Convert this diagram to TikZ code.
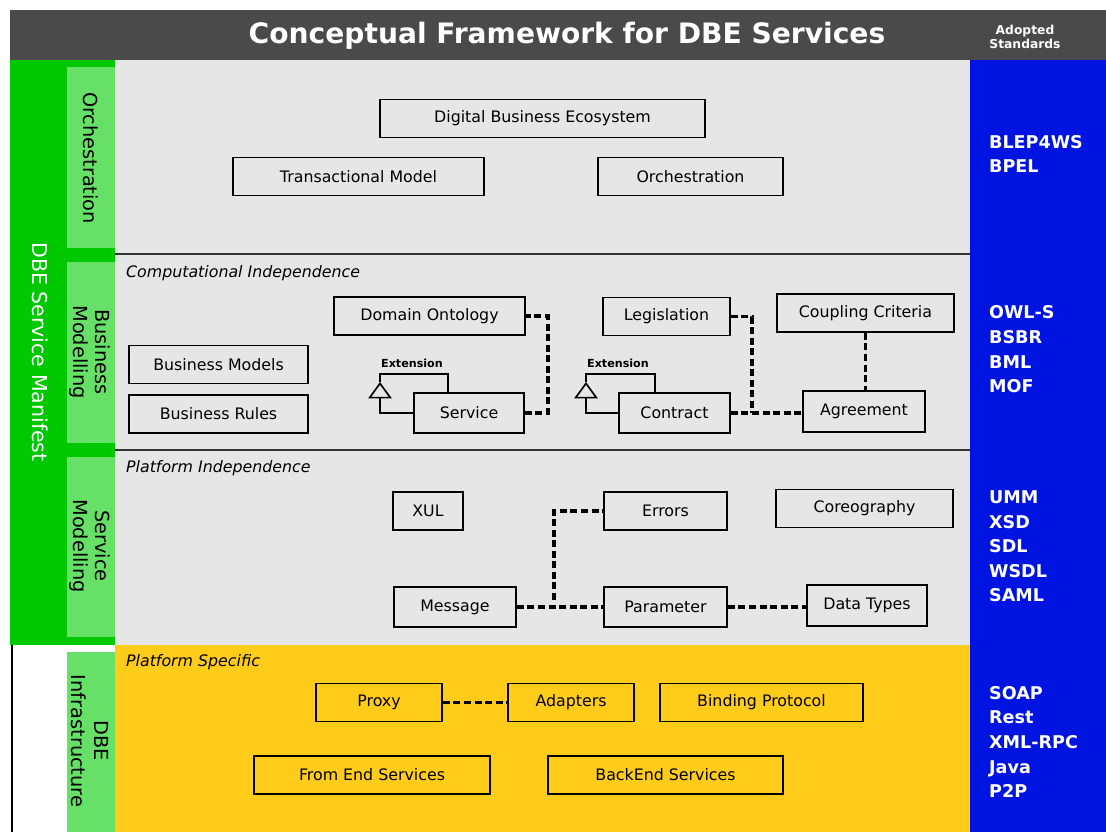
\documentclass[tikz,border=0pt]{standalone}
\usepackage{fontspec}
\setmainfont{DejaVu Sans}
\usetikzlibrary{arrows.meta}
\definecolor{barGray}{RGB}{74,74,74}
\definecolor{manifestGreen}{RGB}{0,200,0}
\definecolor{tabGreen}{RGB}{102,224,102}
\definecolor{panelGray}{RGB}{230,230,230}
\definecolor{infraYellow}{RGB}{255,204,26}
\definecolor{stdBlue}{RGB}{0,20,225}

\begin{document}
\begin{tikzpicture}[x=0.03cm,y=-0.03cm,
    box/.style={draw,line width=1.5pt,minimum height=1.14cm,inner sep=0pt,font=\fontsize{13.5}{15}\selectfont},
    boxw/.style={minimum width=#1*0.03cm},
    dep/.style={line width=2.8pt,dash pattern=on 6pt off 3pt},
    ext/.style={line width=1.4pt},
    gen/.style={ext,-{Triangle[open,length=14pt,width=20pt]}},
    extlabel/.style={font=\fontsize{9.5}{10}\selectfont\bfseries},
    layer label/.style={anchor=west,font=\fontsize{13.5}{15}\selectfont\itshape},
    tab label/.style={rotate=-90,align=center,font=\fontsize{16.5}{19}\selectfont},
    std list/.style={anchor=west,align=left,text=white,font=\fontsize{15}{21}\selectfont\bfseries}]
  \useasboundingbox (0,0) rectangle (1106,832);

  % bands
  \fill[barGray] (10,10) rectangle (1106,60);
  \fill[manifestGreen] (10,60) rectangle (115,645);
  \fill[panelGray] (115,60) rectangle (970,645);
  \fill[infraYellow] (115,645) rectangle (970,832);
  \fill[stdBlue] (970,60) rectangle (1106,832);
  \fill[tabGreen] (67,67) rectangle (115,248);
  \fill[tabGreen] (67,262) rectangle (115,443);
  \fill[tabGreen] (67,457) rectangle (115,637);
  \fill[tabGreen] (67,652) rectangle (115,832);
  \draw[line width=1.4pt] (12,645) -- (12,832);
  \draw[line width=1.5pt,black!80] (115,254) -- (970,254);
  \draw[line width=1.5pt,black!80] (115,450) -- (970,450);

  \node[text=white,font=\fontsize{24}{28}\selectfont\bfseries] (title) at (567,36) {Conceptual Framework for DBE Services};
  \node[text=white,align=center,font=\fontsize{10.5}{11.5}\selectfont\bfseries] (adopted) at (1025,37) {Adopted\\Standards};

  \node[tab label,text=white,font=\fontsize{17.5}{20}\selectfont] (manifest) at (40,352) {DBE Service Manifest};
  \node[tab label] (orchtab) at (91,158) {Orchestration};
  \node[tab label] (bustab) at (90,352) {Business\\Modelling};
  \node[tab label] (svctab) at (90,546) {Service\\Modelling};
  \node[tab label] (infratab) at (90,741) {DBE\\Infrastructure};

  \node[layer label] (compind) at (122,273) {Computational Independence};
  \node[layer label] (platind) at (122,468) {Platform Independence};
  \node[layer label] (platspec) at (122,662) {Platform Specific};

  % orchestration
  \node[box,boxw=325] at (542.5,118.5) (dbe) {Digital Business Ecosystem};
  \node[box,boxw=251] at (358.5,176.5) (trans) {Transactional Model};
  \node[box,boxw=185] at (690.5,176.5) (orch) {Orchestration};

  % business modelling
  \node[box,boxw=191] at (429.5,316) (ontology) {Domain Ontology};
  \node[box,boxw=179] at (218.5,364.5) (bmodels) {Business Models};
  \node[box,boxw=179] at (218.5,414) (brules) {Business Rules};
  \node[box,boxw=110,minimum height=1.2cm] at (469,413) (service) {Service};
  \node[box,boxw=127] at (666.5,316.5) (legis) {Legislation};
  \node[box,boxw=177] at (865.5,313) (coupling) {Coupling Criteria};
  \node[box,boxw=111,minimum height=1.2cm] at (674.5,413) (contract) {Contract};
  \node[box,boxw=122,minimum height=1.22cm] at (864,411.5) (agreement) {Agreement};

  \node[extlabel] (svcext) at (412,363) {Extension};
  \node[extlabel] (conext) at (618,363) {Extension};
  \coordinate (svcbend) at (380,374);
  \coordinate (conbend) at (586,374);
  \draw[ext] ([xshift=-0.63cm]service.north) |- (svcbend) -- ++(0,8);
  \draw[gen] (service.west) -| ([yshift=-0.24cm]svcbend);
  \draw[ext] ([xshift=-0.585cm]contract.north) |- (conbend) -- ++(0,8);
  \draw[gen] (contract.west) -| ([yshift=-0.24cm]conbend);

  \coordinate (legjoin) at (752,413);
  \draw[dep] (service.east) -- ++(23,0) |- (ontology.east);
  \draw[dep] (legis.east) -| (legjoin);
  \draw[dep] (contract.east) -- (contract.east -| agreement.west);
  \draw[dep] (coupling.south) -- (coupling.south |- agreement.north);

  % service modelling
  \node[box,boxw=70] at (428,511) (xul) {XUL};
  \node[box,boxw=123] at (665.5,511) (errors) {Errors};
  \node[box,boxw=177] at (864.5,508.5) (coreo) {Coreography};
  \node[box,boxw=122,minimum height=1.2cm] at (455,607) (message) {Message};
  \node[box,boxw=123,minimum height=1.2cm] at (665.5,607) (param) {Parameter};
  \node[box,boxw=120,minimum height=1.22cm] at (867,605.5) (datatypes) {Data Types};

  \coordinate (msgjoin) at (554,600);
  \draw[dep] (message.east) -- (param.west);
  \draw[dep] (msgjoin) |- (errors.west);
  \draw[dep] (param.east) -- (param.east -| datatypes.west);

  % infrastructure
  \node[box,boxw=126] at (379,702.5) (proxy) {Proxy};
  \node[box,boxw=126] at (571,702.5) (adapters) {Adapters};
  \node[box,boxw=203] at (761.5,702.5) (binding) {Binding Protocol};
  \node[box,boxw=236] at (372,775) (frontend) {From End Services};
  \node[box,boxw=235] at (665.5,775) (backend) {BackEnd Services};

  \draw[dep] (proxy.east) -- (adapters.west);

  % adopted standards
  \node[std list] (orchstd) at (985,154) {BLEP4WS\\BPEL};
  \node[std list] (busstd) at (985,349.5) {OWL-S\\BSBR\\BML\\MOF};
  \node[std list] (svcstd) at (985,546.5) {UMM\\XSD\\SDL\\WSDL\\SAML};
  \node[std list] (infrastd) at (985,742) {SOAP\\Rest\\XML-RPC\\Java\\P2P};
\end{tikzpicture}
\end{document}
